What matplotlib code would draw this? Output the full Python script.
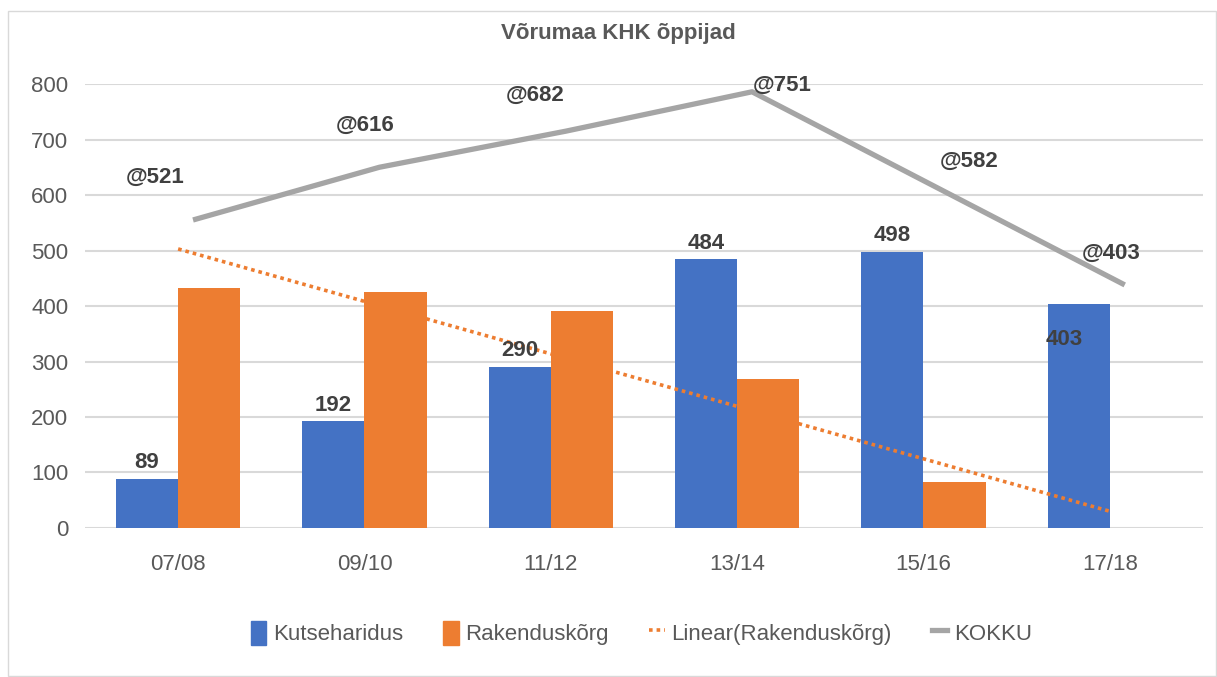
import numpy as np
import matplotlib.pyplot as plt
from matplotlib.patches import Rectangle, Patch
from matplotlib.lines import Line2D

plt.rcParams['font.family'] = ['Liberation Sans', 'DejaVu Sans']

# andmed
aastad = ["07/08", "09/10", "11/12", "13/14", "15/16", "17/18"]
kutseharidus = [89, 192, 290, 484, 498, 403]
rakenduskorg = [432, 425, 391, 268, 83, 0]
kokku_joon = [555, 650, 715, 786, 612, 438]      # joon nagu pildil
kokku_sildid = ["@521", "@616", "@682", "@751", "@582", "@403"]

# siltide nihked pikslites
kokku_nihe = [(-38, 43), (-14, 42), (-31, 36), (30, 6), (31, 27), (-14, 32)]
kutse_nihe = [(0, 16), (0, 16), (0, 17), (0, 16), (0, 16), (-15, -35)]

BLUE = "#4472C4"
ORANGE = "#ED7D31"
GRAY = "#A5A5A5"
TXT = "#595959"

fig = plt.figure(figsize=(12.17, 6.77), dpi=100)
ax = fig.add_axes([0.0698, 0.2201, 0.9187, 0.6558])

x = np.arange(len(aastad))
w = 1 / 3
ax.bar(x - w / 2, kutseharidus, w, color=BLUE, zorder=2)
ax.bar(x + w / 2, rakenduskorg, w, color=ORANGE, zorder=2)

# lineaarne trend
k, b = np.polyfit(x, rakenduskorg, 1)
ax.plot(x, k * x + b, color=ORANGE, lw=2.6, ls=(0, (1, 1.1)), zorder=3)

xs = x + 0.08
ax.plot(xs, kokku_joon, color=GRAY, lw=3.8, zorder=3, solid_capstyle="butt")

for i in range(len(aastad)):
    ax.annotate(kutseharidus[i], (x[i] - w / 2, kutseharidus[i]),
                xytext=kutse_nihe[i], textcoords="offset pixels",
                ha="center", va="center", fontsize=16, fontweight="bold",
                color="#404040", zorder=4)
    ax.annotate(kokku_sildid[i], (xs[i], kokku_joon[i]),
                xytext=kokku_nihe[i], textcoords="offset pixels",
                ha="center", va="center", fontsize=16, fontweight="bold",
                color="#404040", zorder=4)

ax.set_xlim(-0.5, len(aastad) - 0.5)
ax.set_ylim(0, 800)
ax.set_yticks(range(0, 801, 100))
ax.set_xticks(x)
ax.set_xticklabels(aastad)
ax.tick_params(length=0, labelsize=16, labelcolor=TXT)
ax.tick_params(axis="x", pad=19)
ax.tick_params(axis="y", pad=12)
ax.grid(axis="y", color="#D9D9D9", lw=1.5, zorder=0)
for s in ax.spines.values():
    s.set_visible(False)

fig.text(0.508, 0.951, "Võrumaa KHK õppijad", ha="center", va="center",
         fontsize=16, fontweight="bold", color=TXT)

handles = [
    Patch(color=BLUE),
    Patch(color=ORANGE),
    Line2D([], [], color=ORANGE, lw=2.6, ls=(0, (1, 1.1))),
    Line2D([], [], color=GRAY, lw=3.8),
]
labels = ["Kutseharidus", "Rakenduskõrg", "Linear(Rakenduskõrg)", "KOKKU"]
fig.legend(handles, labels, loc="center", bbox_to_anchor=(0.527, 0.065),
           ncol=4, frameon=False, fontsize=16, labelcolor=TXT,
           handlelength=0.7, handleheight=1.3, handletextpad=0.3,
           columnspacing=1.8)

fig.patches.append(Rectangle((8 / 1217, 0.002), 1 - 9 / 1217, 1 - 11 / 677 - 0.002,
                             transform=fig.transFigure, fill=False,
                             edgecolor="#D9D9D9", lw=1))

fig.savefig("out.png", dpi=100)
